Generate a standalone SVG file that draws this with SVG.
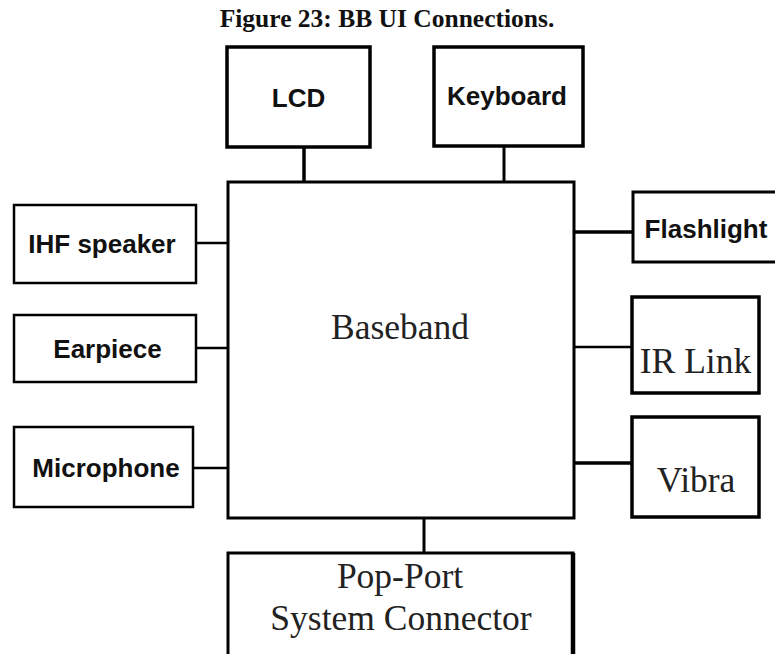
<svg xmlns="http://www.w3.org/2000/svg" width="775" height="654" viewBox="0 0 775 654">
  <style>
    .box { fill: #ffffff; stroke: #000000; }
    .thick { stroke-width: 3.5; }
    .mid { stroke-width: 3; }
    .thin { stroke-width: 2.5; }
    .sans { font-family: "Liberation Sans", Arial, sans-serif; font-weight: bold; font-size: 26px; fill: #111111; text-anchor: middle; }
    .serif { font-family: "Liberation Serif", "Times New Roman", serif; font-size: 35.5px; fill: #222222; text-anchor: middle; }
    .title { font-family: "Liberation Serif", "Times New Roman", serif; font-weight: bold; font-size: 25.5px; fill: #111111; text-anchor: middle; }
    .wire { stroke: #000000; fill: none; }
  </style>
  <rect width="775" height="654" fill="#ffffff"/>

  <text class="title" x="387" y="27">Figure 23: BB UI Connections.</text>

  <!-- connectors -->
  <g id="connectors">
    <line class="wire" x1="304" y1="147" x2="304" y2="182" stroke-width="3.5"/>
    <line class="wire" x1="504" y1="147" x2="504" y2="182" stroke-width="3"/>
    <line class="wire" x1="196" y1="243" x2="228" y2="243" stroke-width="2.5"/>
    <line class="wire" x1="196" y1="348" x2="228" y2="348" stroke-width="2.5"/>
    <line class="wire" x1="193" y1="468" x2="228" y2="468" stroke-width="2.5"/>
    <line class="wire" x1="571" y1="232" x2="633" y2="232" stroke-width="3.5"/>
    <line class="wire" x1="571" y1="347" x2="632" y2="347" stroke-width="2.5"/>
    <line class="wire" x1="571" y1="463" x2="632" y2="463" stroke-width="3.5"/>
    <line class="wire" x1="424" y1="518" x2="424" y2="553" stroke-width="3"/>
  </g>

  <g id="baseband">
    <rect class="box mid" x="228" y="182" width="346" height="336"/>
    <text class="serif" x="400" y="339">Baseband</text>
  </g>

  <g id="lcd">
    <rect class="box thick" x="227" y="47" width="143" height="100"/>
    <text class="sans" x="298.5" y="107">LCD</text>
  </g>

  <g id="keyboard">
    <rect class="box thick" x="434" y="47" width="149" height="99"/>
    <text class="sans" x="507" y="105">Keyboard</text>
  </g>

  <g id="ihf-speaker">
    <rect class="box thin" x="14" y="205" width="182" height="78"/>
    <text class="sans" x="102" y="253">IHF speaker</text>
  </g>

  <g id="earpiece">
    <rect class="box thin" x="14" y="315" width="182" height="67"/>
    <text class="sans" x="107.5" y="358">Earpiece</text>
  </g>

  <g id="microphone">
    <rect class="box thin" x="14" y="427" width="179" height="80"/>
    <text class="sans" x="106" y="477">Microphone</text>
  </g>

  <g id="flashlight">
    <rect class="box mid" x="633" y="192" width="150" height="70"/>
    <text class="sans" x="706" y="238">Flashlight</text>
  </g>

  <g id="ir-link">
    <rect class="box thick" x="632" y="297" width="127" height="96"/>
    <text class="serif" x="695.5" y="373">IR Link</text>
  </g>

  <g id="vibra">
    <rect class="box thick" x="632" y="417" width="127" height="100"/>
    <text class="serif" x="696" y="492">Vibra</text>
  </g>

  <g id="pop-port">
    <rect class="box mid" x="228" y="553" width="345" height="110"/>
    <line class="wire" x1="573" y1="553" x2="573" y2="654" stroke-width="4.5"/>
    <text class="serif" x="400" y="588">Pop-Port</text>
    <text class="serif" x="401" y="630">System Connector</text>
  </g>
</svg>
